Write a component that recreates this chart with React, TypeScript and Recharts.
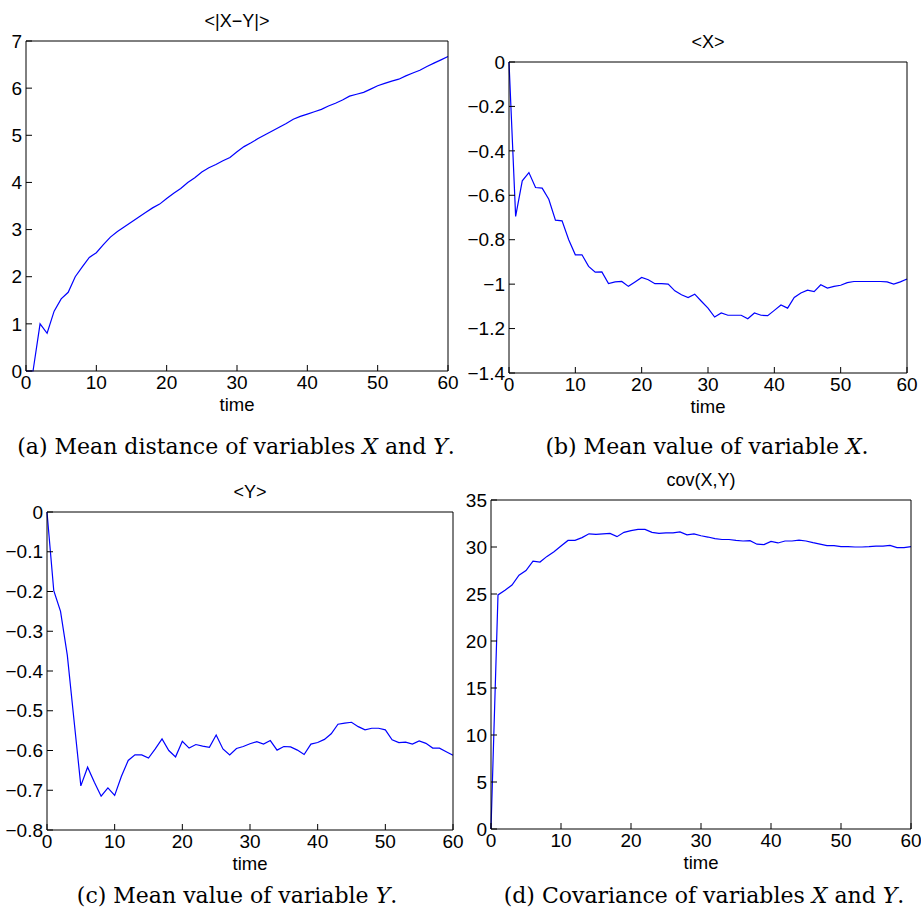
import { LineChart, Line, XAxis, YAxis } from "recharts";

// time steps 0..60
const TIME = Array.from({ length: 61 }, (_, i) => i);
const X_TICKS = [0, 10, 20, 30, 40, 50, 60];

// (a) <|X-Y|>
const MEAN_DIST = [
  0, 0, 1.0, 0.8, 1.27, 1.53, 1.67, 2.0, 2.21, 2.41,
  2.51, 2.68, 2.84, 2.96, 3.06, 3.16, 3.26, 3.36, 3.46, 3.54,
  3.66, 3.77, 3.87, 4.0, 4.1, 4.22, 4.31, 4.38, 4.46, 4.53,
  4.65, 4.76, 4.84, 4.93, 5.01, 5.09, 5.17, 5.25, 5.34, 5.4,
  5.45, 5.5, 5.55, 5.62, 5.68, 5.75, 5.83, 5.87, 5.91, 5.98,
  6.05, 6.1, 6.15, 6.19, 6.26, 6.32, 6.38, 6.46, 6.53, 6.6,
  6.67,
];
const DIST_TICKS = [0, 1, 2, 3, 4, 5, 6, 7];

// (b) <X>
const MEAN_X = [
  0, -0.695, -0.535, -0.498, -0.565, -0.568, -0.618, -0.712, -0.715, -0.8,
  -0.868, -0.868, -0.92, -0.946, -0.945, -0.997, -0.99, -0.988, -1.01, -0.99,
  -0.97, -0.98, -0.998, -0.998, -1.0, -1.03, -1.048, -1.06, -1.045, -1.077,
  -1.108, -1.148, -1.13, -1.14, -1.14, -1.14, -1.156, -1.13, -1.14, -1.142,
  -1.118, -1.094, -1.108, -1.06, -1.04, -1.027, -1.034, -1.003, -1.018, -1.01,
  -1.005, -0.993, -0.988, -0.988, -0.988, -0.988, -0.988, -0.99, -1.0, -0.99,
  -0.977,
];
const X_VAL_TICKS = [-1.4, -1.2, -1, -0.8, -0.6, -0.4, -0.2, 0];

// (c) <Y>
const MEAN_Y = [
  0, -0.198, -0.25, -0.36, -0.525, -0.689, -0.642, -0.68, -0.715, -0.694,
  -0.713, -0.665, -0.625, -0.611, -0.611, -0.619, -0.596, -0.571, -0.6, -0.616,
  -0.577, -0.594, -0.585, -0.589, -0.592, -0.561, -0.596, -0.611, -0.595, -0.59,
  -0.583, -0.578, -0.584, -0.575, -0.599, -0.59, -0.591, -0.599, -0.61, -0.584,
  -0.58, -0.572, -0.558, -0.534, -0.531, -0.529, -0.54, -0.548, -0.544, -0.544,
  -0.548, -0.573, -0.58, -0.579, -0.584, -0.576, -0.582, -0.594, -0.594, -0.603,
  -0.612,
];
const Y_VAL_TICKS = [-0.8, -0.7, -0.6, -0.5, -0.4, -0.3, -0.2, -0.1, 0];

// (d) cov(X,Y)
const COV_XY = [
  0, 24.9, 25.4, 25.96, 27.0, 27.5, 28.5, 28.4, 29.0, 29.5,
  30.1, 30.7, 30.7, 31.0, 31.4, 31.35, 31.4, 31.45, 31.1, 31.56,
  31.74, 31.88, 31.88, 31.56, 31.45, 31.5, 31.5, 31.6, 31.3, 31.4,
  31.2, 31.06, 30.9, 30.8, 30.8, 30.7, 30.64, 30.67, 30.3, 30.25,
  30.6, 30.43, 30.64, 30.64, 30.74, 30.64, 30.46, 30.3, 30.14, 30.14,
  30.04, 30.04, 30.0, 30.0, 30.04, 30.1, 30.1, 30.18, 29.93, 29.93,
  30.04,
];
const COV_TICKS = [0, 5, 10, 15, 20, 25, 30, 35];

const fmt = (v: number) => String(v).replace("-", "\u2212");

interface PanelProps {
  title: string;
  values: number[];
  yTicks: number[];
  left: number;
  top: number;
  width: number;
  height: number;
  mTop: number;
  mRight: number;
  yw: number;
  xh: number;
}

function Panel({ title, values, yTicks, left, top, width, height, mTop, mRight, yw, xh }: PanelProps) {
  const data = TIME.map((t, i) => ({ t, v: values[i] }));
  const domain = [yTicks[0], yTicks[yTicks.length - 1]];
  const tickStyle = { fill: "#000", fontSize: 19 };
  return (
    <div style={{ position: "absolute", left, top }}>
      <LineChart width={width} height={height} data={data} margin={{ top: mTop, right: mRight, bottom: 0, left: 0 }}>
        <XAxis xAxisId="b" dataKey="t" type="number" domain={[0, 60]} ticks={X_TICKS} interval={0}
          height={xh} tickSize={-6} tickMargin={11} stroke="#000" tick={tickStyle}
          label={{ value: "time", position: "insideTop", offset: 27, fill: "#000", fontSize: 18.5 }} />
        <XAxis xAxisId="t" orientation="top" dataKey="t" type="number" domain={[0, 60]} ticks={X_TICKS} interval={0}
          height={1} tickSize={-6} tick={false} stroke="#000"
          label={{ value: title, position: "top", offset: 13, fill: "#000", fontSize: 18 }} />
        <YAxis yAxisId="l" type="number" domain={domain} ticks={yTicks} interval={0} width={yw}
          tickSize={-6} tickMargin={10} stroke="#000" tick={tickStyle} tickFormatter={fmt} />
        <YAxis yAxisId="r" orientation="right" type="number" domain={domain} ticks={yTicks} interval={0} width={1}
          tickSize={-6} tick={false} stroke="#000" />
        <Line xAxisId="b" yAxisId="l" dataKey="v" stroke="#0000ff" strokeWidth={1.2} dot={false} isAnimationActive={false} />
      </LineChart>
    </div>
  );
}

export default function App() {
  return (
    <div style={{ position: "absolute", left: 0, top: 0, width: 921, height: 920, background: "#fff", fontFamily: "'Liberation Sans', Arial, sans-serif" }}>
      <Panel title="<|X−Y|>" values={MEAN_DIST} yTicks={DIST_TICKS} left={0} top={0} width={460} height={420} mTop={40} mRight={11} yw={26} xh={49} />
      <Panel title="<X>" values={MEAN_X} yTicks={X_VAL_TICKS} left={460} top={0} width={461} height={420} mTop={61} mRight={13} yw={49} xh={47} />
      <Panel title="<Y>" values={MEAN_Y} yTicks={Y_VAL_TICKS} left={0} top={460} width={470} height={420} mTop={51} mRight={16} yw={47} xh={50} />
      <Panel title="cov(X,Y)" values={COV_XY} yTicks={COV_TICKS} left={460} top={460} width={461} height={420} mTop={39} mRight={9} yw={31} xh={51} />
      <svg width={921} height={920} style={{ position: "absolute", left: 0, top: 0, pointerEvents: "none" }}>
        <g fontFamily="'DejaVu Serif', serif" fontSize={22} fill="#000" textAnchor="middle">
          <text x={236} y={454}>(a) Mean distance of variables <tspan fontStyle="italic">X</tspan> and <tspan fontStyle="italic">Y</tspan>.</text>
          <text x={707} y={454}>(b) Mean value of variable <tspan fontStyle="italic">X</tspan>.</text>
          <text x={237} y={903}>(c) Mean value of variable <tspan fontStyle="italic">Y</tspan>.</text>
          <text x={704} y={903}>(d) Covariance of variables <tspan fontStyle="italic">X</tspan> and <tspan fontStyle="italic">Y</tspan>.</text>
        </g>
      </svg>
    </div>
  );
}
